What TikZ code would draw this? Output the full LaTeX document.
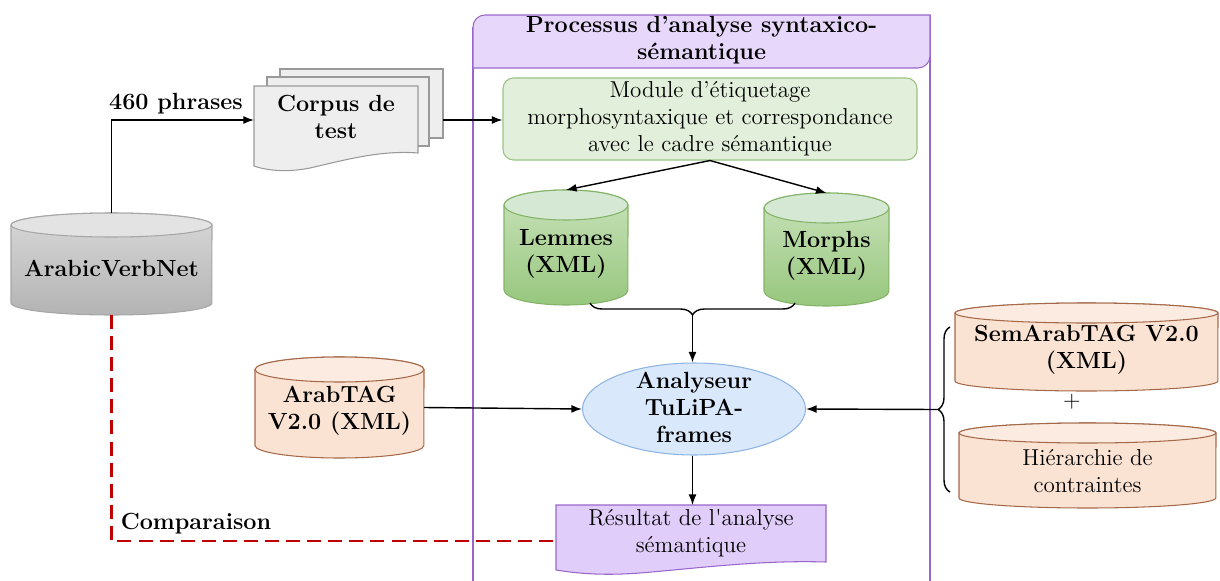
\documentclass[tikz,border=0pt]{standalone}
\usetikzlibrary{shapes.geometric,arrows.meta,decorations.pathreplacing}
\definecolor{purp}{HTML}{9966CC}
\definecolor{hdr}{HTML}{E7D7FB}
\definecolor{resf}{HTML}{E1CDF9}
\definecolor{grnd}{HTML}{82B366}
\definecolor{grnf}{HTML}{E2EFDA}
\definecolor{grntop}{HTML}{D5E8D4}
\definecolor{grn1}{HTML}{C9E2BA}
\definecolor{grn2}{HTML}{97C77E}
\definecolor{blued}{HTML}{8DB4E2}
\definecolor{bluef}{HTML}{DAE8FC}
\definecolor{peachf}{HTML}{FBE3D3}
\definecolor{peachtop}{HTML}{FCEBE0}
\definecolor{peachd}{HTML}{A5694A}
\definecolor{grayd}{HTML}{A6A6A6}
\definecolor{graytop}{HTML}{E3E3E3}
\definecolor{grayone}{HTML}{D8D8D8}
\definecolor{graytwo}{HTML}{B3B3B3}
\definecolor{docf}{HTML}{EEEEEE}
\definecolor{docd}{HTML}{999999}
\definecolor{redd}{HTML}{C00000}
% #1 L, #2 R, #3 top, #4 bottom, #5 half-height of ellipse, #6 draw colour, #7 body fill options, #8 top fill
\newcommand{\cylshape}[8]{%
 \path[draw=#6, line width=0.6pt, #7] (#1,{-(#3)-(#5)}) -- (#1,{-(#4)+(#5)})
   arc[start angle=180,end angle=360,x radius={(#2-#1)*0.01cm},y radius={#5*0.02cm}]
   -- (#2,{-(#3)-(#5)})
   arc[start angle=0,end angle=180,x radius={(#2-#1)*0.01cm},y radius={#5*0.02cm}] -- cycle;
 \path[draw=#6, line width=0.6pt, fill=#8] ({(#1+#2)/2},{-(#3)-(#5)})
   ellipse[x radius={(#2-#1)*0.01cm},y radius={#5*0.02cm}];
}
\begin{document}
\begin{tikzpicture}[x=0.02cm,y=0.02cm,
  bf/.style={font=\fontsize{13.3}{15.4}\selectfont\bfseries, align=center, inner sep=0},
  rm/.style={font=\fontsize{13.1}{15.4}\selectfont, align=center, inner sep=0},
  box/.style={inner sep=0, outer sep=0},
  arr/.style={-{Latex[length=6pt,width=4.5pt]}, line width=0.8pt},
  bracestyle/.style={decorate, decoration={brace, amplitude=0.24cm}, line width=0.8pt},
  page/.style={draw=docd, fill=docf, line width=0.6pt},
  reddash/.style={draw=redd, line width=1.4pt, dash pattern=on 8pt off 4pt}]
\useasboundingbox (0,0) rectangle (1220,-581);

% frame of the process
\draw[purp, line width=0.6pt] (473,-27) -- (473,-581);
\draw[purp, line width=0.6pt] (930,-15) -- (930,-581);
\path[draw=purp, fill=hdr, line width=0.6pt] (473,-27) arc[start angle=180,end angle=90,radius=0.24cm]
  -- (930,-15) -- (930,-56) arc[start angle=0,end angle=-90,radius=0.24cm] -- (473,-68) -- cycle;
\node[bf] (hdrt) at (701.5,-40) {Processus d’analyse syntaxico-\\sémantique};

% module
\node[draw=grnd!80, fill=grnf, rounded corners=6pt, line width=0.6pt, minimum width={414*0.02cm}, minimum height={82*0.02cm}, rm] (mod) at (710,-119)
  {Module d’étiquetage\\morphosyntaxique et correspondance\\avec le cadre sémantique};

% cylinders
\cylshape{504}{628}{190}{305}{15}{grnd}{top color=grn1,bottom color=grn2}{grntop}
\node[box, minimum width={124*0.02cm}, minimum height={115*0.02cm}] (lem) at (566,-247.5) {};
\node[bf] (lemt) at (566,-254) {Lemmes\\(XML)};

\cylshape{764}{889}{193}{306}{15}{grnd}{top color=grn1,bottom color=grn2}{grntop}
\node[box, minimum width={125*0.02cm}, minimum height={113*0.02cm}] (mor) at (826.5,-249.5) {};
\node[bf] (mort) at (826.5,-255.5) {Morphs\\(XML)};

\cylshape{11}{212}{213}{315}{12}{grayd}{top color=grayone,bottom color=graytwo}{graytop}
\node[box, minimum width={201*0.02cm}, minimum height={102*0.02cm}] (avn) at (111.5,-264) {};
\node[bf] (avnt) at (111.5,-268) {ArabicVerbNet};

\cylshape{255}{424}{357}{458}{12.5}{peachd}{fill=peachf}{peachtop}
\node[box, minimum width={169*0.02cm}, minimum height={101*0.02cm}] (arab) at (339.5,-407.5) {};
\node[bf] (arabt) at (339.5,-410.5) {ArabTAG\\V2.0 (XML)};

\cylshape{955}{1218}{303}{391}{10}{peachd}{fill=peachf}{peachtop}
\node[box, minimum width={263*0.02cm}, minimum height={88*0.02cm}] (sem) at (1086.5,-347) {};
\node[bf] (semt) at (1086.5,-350) {SemArabTAG V2.0\\(XML)};

\node[rm] (plus) at (1072,-402) {+};

\cylshape{959}{1216}{423}{508}{10}{peachd}{fill=peachf}{peachtop}
\node[box, minimum width={257*0.02cm}, minimum height={85*0.02cm}] (hier) at (1087.5,-465.5) {};
\node[rm] (hiert) at (1087.5,-471) {Hiérarchie de\\contraintes};

% analyser
\node[ellipse, draw=blued, fill=bluef, line width=0.6pt, inner sep=0, minimum width={223*0.02cm}, minimum height={92*0.02cm}] (ana) at (694,-409) {};
\node[bf] (anat) at (694,-407) {Analyseur\\TuLiPA-\\frames};

% result document
\path[draw=purp, fill=resf, line width=0.6pt] (556,-505) -- (826,-505) -- (826,-562)
  .. controls (760,-560) and (700,-568) .. (640,-573)
  .. controls (600,-576) and (575,-573) .. (556,-570) -- cycle;
\node[box, minimum width={270*0.02cm}, minimum height={60*0.02cm}] (res) at (691,-535) {};
\node[rm] (rest) at (691,-533) {Résultat de l\textquotesingle analyse\\sémantique};

% corpus (multiple documents)
\node[page, box, minimum width={163*0.02cm}, minimum height={69*0.02cm}] (cor3) at (361.5,-103.5) {};
\node[page, box, minimum width={162*0.02cm}, minimum height={69*0.02cm}] (cor2) at (348,-111.5) {};
\path[page] (254,-86) -- (418,-86) -- (418,-153)
  .. controls (380,-150) and (345,-160) .. (310,-168)
  .. controls (285,-173) and (265,-170) .. (254,-166) -- cycle;
\node[box, minimum width={164*0.02cm}, minimum height={68*0.02cm}] (cor) at (336,-120) {};
\node[bf] (cort) at (336,-116.5) {Corpus de\\test};

% connectors
\draw[arr] (avn.north) |- (cor.west);
\node[bf] (phr) at (176,-104) {460 phrases};
\draw[arr] (cor3.east |- cor.east) -- (mod.west |- cor.east);
\draw[arr] (mod.south) -- (lem.north);
\draw[arr] (mod.south) -- (mor.north);

\coordinate (b1) at (795,-303);
\coordinate (b2) at (590,-303);
\draw[bracestyle] (b1) -- (b2);
\coordinate (btip) at (692.5,-316);
\draw[arr] (btip) -- (btip |- ana.north);

\draw[arr] (arab.east) -- (ana.west);

\coordinate (r1) at (950,-492);
\coordinate (r2) at (950,-327);
\draw[bracestyle] (r1) -- (r2);
\coordinate (rtip) at (937,-409.5);
\draw[arr] (rtip) -- (ana.east);

\draw[arr] (ana.south -| btip) -- (btip |- res.north);

\draw[reddash] (avn.south) |- ([yshift=-0.12cm]res.west);
\node[bf] (cmp) at (196,-524) {Comparaison};
\end{tikzpicture}
\end{document}
